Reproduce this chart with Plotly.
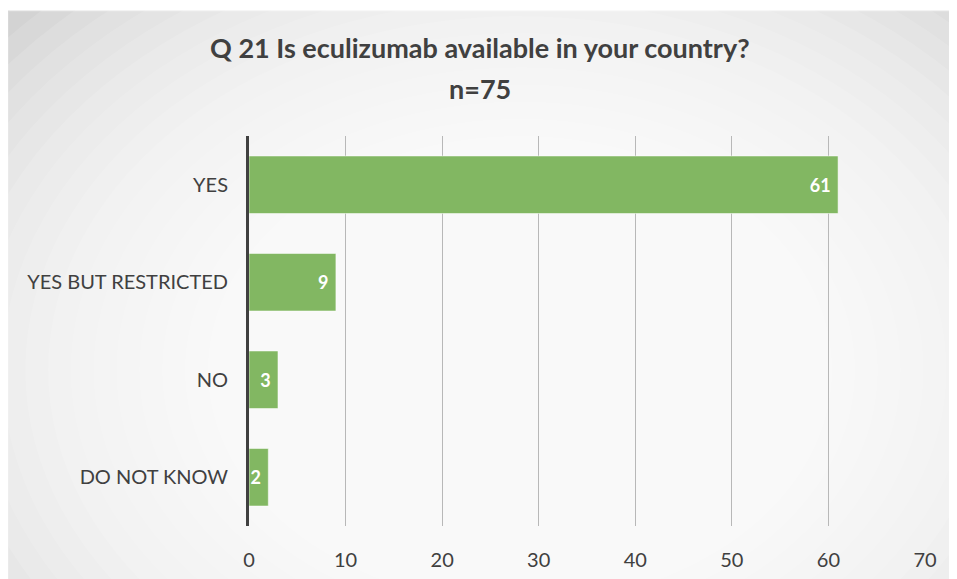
import plotly.graph_objects as go

# データ
CATEGORIES = ["YES", "YES BUT RESTRICTED", "NO", "DO NOT KNOW"]
COUNTS = [61, 9, 3, 2]
X_TICKS = [0, 10, 20, 30, 40, 50, 60, 70]
TITLE = "Q 21 Is eculizumab available in your country?"
SUBTITLE = "n=75"

# ページのbody余白(8px)を差し引いた配置
W, H = 957, 579
OFF = 8
L, R, T, B = 241, 40, 128, 61
PW, PH = W - L - R, H - T - B


def px_to_paper(x, y):
    """参照画像のピクセル座標 -> paper座標"""
    x -= OFF
    y -= OFF
    return (x - L) / PW, (H - B - y) / PH


def background_shapes():
    """Excel風の放射グラデーション背景（灰色の地に白い楕円を重ねる）。"""
    shapes = []
    x0, y1 = px_to_paper(OFF, 11)
    x1, y0 = px_to_paper(W + OFF, H + OFF)
    shapes.append(dict(type="rect", xref="paper", yref="paper",
                       x0=x0, x1=x1, y0=y0, y1=y1, layer="below",
                       fillcolor="#cdcdcd", line=dict(color="#d9d9d9", width=1)))
    cx, cy = 520, 370
    n = 26
    for i in range(n):
        r = 700 - i * (700 - 130) / (n - 1)
        ax0, ay1 = px_to_paper(cx - r, cy - r * 0.75)
        ax1, ay0 = px_to_paper(cx + r, cy + r * 0.75)
        shapes.append(dict(type="circle", xref="paper", yref="paper",
                           x0=ax0, x1=ax1, y0=ay0, y1=ay1, layer="below",
                           fillcolor="rgba(255,255,255,0.13)", line=dict(width=0)))
    return shapes


fig = go.Figure()
fig.add_trace(go.Bar(
    y=CATEGORIES, x=COUNTS, orientation="h",
    marker=dict(color="#82b762", line=dict(color="rgba(255,255,255,0.5)", width=1)),
    text=[f"{v}&nbsp;" for v in COUNTS],
    textposition="inside", insidetextanchor="end", constraintext="none",
    textfont=dict(family="Lato, Open Sans, sans-serif", size=18, color="white", weight="bold"),
    cliponaxis=False,
))

title_font = dict(family="Lato, Open Sans, sans-serif", size=27, color="#404040", weight="bold")
fig.add_annotation(text=TITLE, xref="paper", yref="paper",
                   x=px_to_paper(480, 0)[0], y=px_to_paper(0, 48)[1],
                   xanchor="center", yanchor="middle", showarrow=False, font=title_font)
fig.add_annotation(text=SUBTITLE, xref="paper", yref="paper",
                   x=px_to_paper(480, 0)[0], y=px_to_paper(0, 88)[1],
                   xanchor="center", yanchor="middle", showarrow=False, font=title_font)

fig.update_layout(
    width=W, height=H,
    margin=dict(l=L, r=R, t=T, b=B),
    paper_bgcolor="white",
    plot_bgcolor="rgba(0,0,0,0)",
    bargap=0.41,
    showlegend=False,
    shapes=background_shapes(),
    font=dict(family="Lato, Open Sans, sans-serif", color="#404040"),
    xaxis=dict(
        range=[0, 70], tickvals=X_TICKS, showgrid=True,
        gridcolor="#b8b8b8", gridwidth=1, zeroline=False,
        tickfont=dict(size=20, color="#404040"),
        ticklabelstandoff=20,
    ),
    yaxis=dict(
        categoryorder="array", categoryarray=CATEGORIES[::-1],
        showline=True, linecolor="#404040", linewidth=3,
        showgrid=False, tickfont=dict(size=20, color="#404040"),
        ticklabelstandoff=14,
    ),
)

fig.write_html("out.html")
